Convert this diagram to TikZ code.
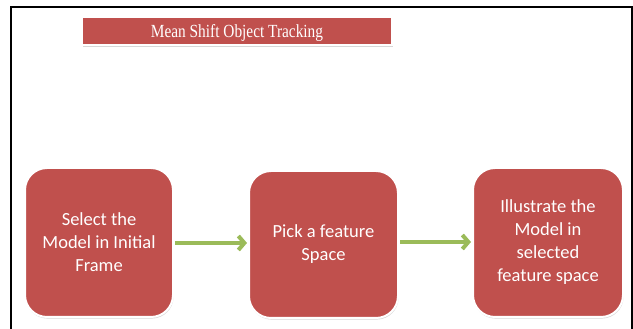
\documentclass[tikz,border=0pt]{standalone}
\usepackage{fontspec}
\newfontfamily\boxfont{Carlito}
\newfontfamily\titlefont[FakeStretch=0.83]{Liberation Serif}
\usetikzlibrary{arrows.meta,shadows}
\definecolor{officered}{HTML}{C0504D}
\definecolor{officegreen}{HTML}{9BBB59}
\begin{document}
\begin{tikzpicture}[x=1pt,y=1pt,
  softshadow/.style={drop shadow={shadow xshift=0.6pt,shadow yshift=-1.6pt,opacity=0.35,fill=black!45}},
  titlebar/.style={rectangle,fill=officered,draw=white,line width=1.5pt,softshadow,
    minimum width=310pt,minimum height=28pt,inner sep=0pt,text=white,
    text height=12.2pt,text depth=0pt,
    font=\titlefont\fontsize{18.5}{22}\selectfont},
  stepbox/.style={rectangle,rounded corners=22pt,fill=officered,draw=white,line width=2pt,softshadow,
    inner sep=0pt,text=white,align=center,
    font=\boxfont\fontsize{18.5}{23}\selectfont},
  flow/.style={draw=officegreen,line width=4pt,
    -{Straight Barb[length=6pt,width=14pt,line join=miter]}}]
  \useasboundingbox (0,0) rectangle (633,329);
  % page frame, open at the bottom
  \draw[line width=2pt] (10.5,0) -- (10.5,321.5) -- (631.5,321.5) -- (631.5,0);
  % title banner
  \node[titlebar] (title) at (237,298) {Mean Shift Object Tracking};
  % process steps
  \node[stepbox,minimum width=148pt,minimum height=149pt] (b1) at (99,86.5)
    {Select the\\Model in Initial\\Frame};
  \node[stepbox,minimum width=149pt,minimum height=147pt] (b2) at (323.5,84.5)
    {Pick a feature\\Space};
  \node[stepbox,minimum width=150pt,minimum height=149pt] (b3) at (548,86.5)
    {Illustrate the\\Model in\\selected\\feature space};
  % connectors
  \draw[flow] ([xshift=1pt]b1.east |- 0,86) -- ([xshift=-1pt]b2.west |- 0,86);
  \draw[flow] ([xshift=1pt]b2.east |- 0,87) -- ([xshift=-1pt]b3.west |- 0,87);
\end{tikzpicture}
\end{document}
